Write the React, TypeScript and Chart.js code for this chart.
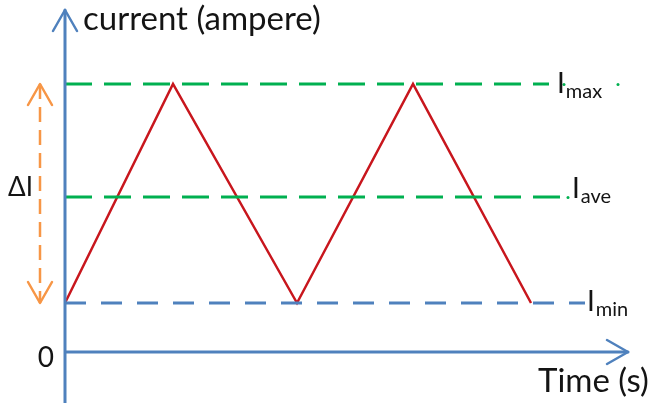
import React, { useEffect, useRef } from "react";
import { Chart, registerables } from "chart.js";

Chart.register(...registerables);

// Triangular current waveform (time, current) in chart units
const TIME_POINTS = [0, 10.8, 23.2, 34.8, 46.6];
const CURRENT_POINTS = [4.9, 26.8, 4.9, 26.8, 4.9];

// Reference levels
const LEVEL_SUBS = ["max", "ave", "min"];
const LEVEL_VALUES = [26.8, 15.5, 4.9];
const LEVEL_LINE_END = [48.4, 50.0, 52.0];
const LEVEL_COLORS = ["#00b050", "#00b050", "#4f81bd"];
const LEVEL_LABEL_X = [49.2, 50.7, 52.2];
const LEVEL_LABEL_BASE = [25.9, 15.4, 4.1];

// Axis extents
const X_RANGE = [-6.5, 58.3];
const Y_RANGE = [-5.1, 35.2];
const X_AXIS_END = 56.3;
const Y_AXIS_TOP = 34.2;
const DELTA_X = -2.5;

const Y_TITLE = "current (ampere)";
const X_TITLE = "Time (s)";
const ZERO_LABEL = "0";
const DELTA_LABEL = "ΔI";

const FONT = "Lato, 'Open Sans', sans-serif";
const TEXT_COLOR = "#141414";
const AXIS_COLOR = "#4f81bd";

export default function App() {
  const ref = useRef<HTMLCanvasElement | null>(null);

  useEffect(() => {
    document.body.style.margin = "0";
    const canvas = ref.current;
    if (!canvas) return;

    const decor = {
      id: "decor",
      afterDatasetsDraw(chart: any) {
        const ctx = chart.ctx as CanvasRenderingContext2D;
        const xs = chart.scales.x;
        const ys = chart.scales.y;
        const px = (v: number) => xs.getPixelForValue(v);
        const py = (v: number) => ys.getPixelForValue(v);
        ctx.save();
        // axes
        ctx.strokeStyle = AXIS_COLOR;
        ctx.lineWidth = 3;
        ctx.lineCap = "round";
        ctx.lineJoin = "round";
        const x0 = px(0);
        const y0 = py(0);
        ctx.beginPath();
        ctx.moveTo(x0, chart.height);
        ctx.lineTo(x0, py(Y_AXIS_TOP));
        ctx.moveTo(x0, y0);
        ctx.lineTo(px(X_AXIS_END), y0);
        ctx.stroke();
        // y arrow head
        const yt = py(Y_AXIS_TOP);
        ctx.lineWidth = 2.5;
        ctx.beginPath();
        ctx.moveTo(x0 - 12, yt + 21);
        ctx.lineTo(x0, yt);
        ctx.lineTo(x0 + 12, yt + 21);
        ctx.stroke();
        // x arrow head
        const xt = px(X_AXIS_END);
        ctx.beginPath();
        ctx.moveTo(xt - 21, y0 - 12);
        ctx.lineTo(xt, y0);
        ctx.lineTo(xt - 21, y0 + 12);
        ctx.stroke();

        // delta arrow heads
        ctx.strokeStyle = "#f79646";
        ctx.lineWidth = 2.5;
        const dx = px(DELTA_X);
        const dTop = py(LEVEL_VALUES[0]);
        const dBot = py(LEVEL_VALUES[2]);
        ctx.beginPath();
        ctx.moveTo(dx - 12, dTop + 21);
        ctx.lineTo(dx, dTop);
        ctx.lineTo(dx + 12, dTop + 21);
        ctx.moveTo(dx - 12, dBot - 21);
        ctx.lineTo(dx, dBot);
        ctx.lineTo(dx + 12, dBot - 21);
        ctx.stroke();

        // small dots trailing the Imax line
        ctx.fillStyle = "#00b050";
        [49.9, 55.3].forEach((vx) => {
          ctx.beginPath();
          ctx.arc(px(vx), py(LEVEL_VALUES[0]) + 0.5, 1.5, 0, Math.PI * 2);
          ctx.fill();
        });
        ctx.beginPath();
        ctx.arc(px(50.3), py(LEVEL_VALUES[1]) + 0.5, 1.5, 0, Math.PI * 2);
        ctx.fill();

        // texts
        ctx.fillStyle = TEXT_COLOR;
        ctx.textBaseline = "alphabetic";
        ctx.textAlign = "left";
        ctx.font = `33px ${FONT}`;
        ctx.fillText(Y_TITLE, px(1.8), py(32.2));
        ctx.fillText(X_TITLE, px(47.3), py(-4.0));
        ctx.font = `28px ${FONT}`;
        ctx.textAlign = "right";
        ctx.fillText(ZERO_LABEL, px(-1.1), py(-1.5));
        ctx.textAlign = "left";
        ctx.font = `26px ${FONT}`;
        ctx.fillText(DELTA_LABEL, px(-5.7), py(15.6));

        LEVEL_SUBS.forEach((sub, i) => {
          const lx = px(LEVEL_LABEL_X[i]);
          const ly = py(LEVEL_LABEL_BASE[i]);
          ctx.font = `28px ${FONT}`;
          ctx.fillText("I", lx, ly);
          const w = ctx.measureText("I").width;
          ctx.font = `20px ${FONT}`;
          ctx.fillText(sub, lx + w + 1, ly + 5);
        });
        ctx.restore();
      },
    };

    const levelSets = LEVEL_VALUES.map((v, i) => ({
      data: [
        { x: 0, y: v },
        { x: LEVEL_LINE_END[i], y: v },
      ],
      borderColor: LEVEL_COLORS[i],
      borderWidth: 3,
      borderDash: i === 2 ? [21, 15] : [27, 12],
      pointRadius: 0,
    }));

    const chart = new Chart(canvas, {
      type: "line",
      data: {
        datasets: [
          ...levelSets,
          {
            data: [
              { x: DELTA_X, y: LEVEL_VALUES[0] },
              { x: DELTA_X, y: LEVEL_VALUES[2] },
            ],
            borderColor: "#f79646",
            borderWidth: 2.5,
            borderDash: [15, 8],
            pointRadius: 0,
          },
          {
            data: TIME_POINTS.map((t, i) => ({ x: t, y: CURRENT_POINTS[i] })),
            borderColor: "#c8161d",
            borderWidth: 2.5,
            pointRadius: 0,
            tension: 0,
          },
        ],
      },
      options: {
        responsive: false,
        animation: false,
        layout: { padding: 0 },
        plugins: { legend: { display: false }, tooltip: { enabled: false } },
        scales: {
          x: { type: "linear", min: X_RANGE[0], max: X_RANGE[1], display: false },
          y: { type: "linear", min: Y_RANGE[0], max: Y_RANGE[1], display: false },
        },
      },
      plugins: [decor],
    });
    return () => chart.destroy();
  }, []);

  return (
    <div style={{ width: 648, height: 403, background: "#fff" }}>
      <canvas ref={ref} width={648} height={403} style={{ display: "block" }} />
    </div>
  );
}
